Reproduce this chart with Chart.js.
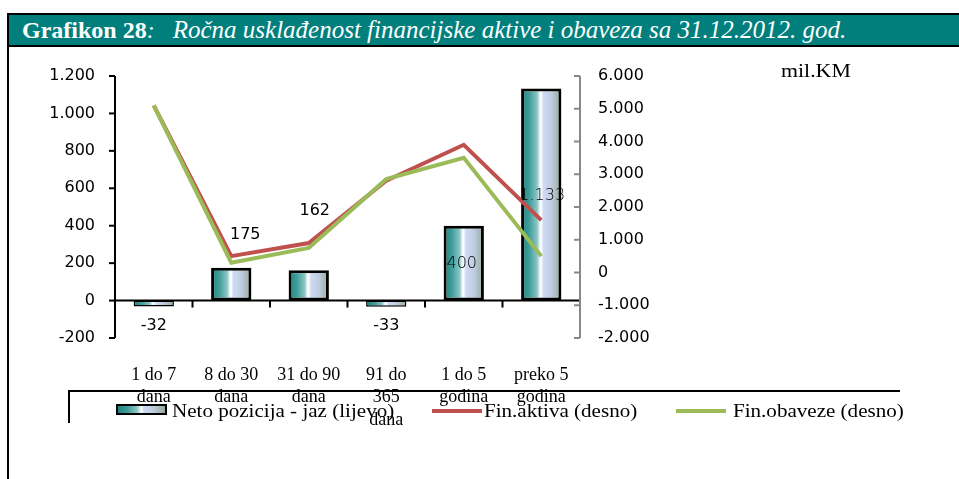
<!DOCTYPE html>
<html>
<head>
<meta charset="utf-8">
<script src="https://cdn.jsdelivr.net/npm/chart.js@4.4.0/dist/chart.umd.min.js"></script>
<style>
  body { margin: 0; width: 959px; height: 479px; background: #fff; position: relative; overflow: hidden; }
  #chart { position: absolute; left: 0; top: 0; }
  .title {
    position: absolute; left: 7px; top: 13px; width: 952px; height: 34px; box-sizing: border-box;
    background: #017f7d; border-top: 2px solid #000; border-bottom: 2px solid #000; border-left: 2px solid #000;
    color: #fff; font-family: "Liberation Serif", serif; font-size: 24px; line-height: 30px; padding-left: 13px;
    white-space: nowrap;
  }
  .title b { font-weight: bold; }
  .title i { font-style: italic; }
  .title .sub { font-size: 25px; }
  .frame-left { position: absolute; left: 7px; top: 47px; width: 2px; height: 432px; background: #000; }
  .unit { position: absolute; left: 781px; top: 60px; font-family: "Liberation Serif", serif; font-size: 19px; color: #000;
    transform: scaleX(1.15); transform-origin: left center; }
  .lg-top { position: absolute; left: 68px; top: 390px; width: 832px; height: 2px; background: #000; }
  .lg-left { position: absolute; left: 68px; top: 390px; width: 2px; height: 33px; background: #000; }
  .lg { position: absolute; top: 401px; font-family: "Liberation Serif", serif; font-size: 18px; color: #000; white-space: nowrap;
    transform: scaleX(1.17); transform-origin: left center; }
  .sw-bar { position: absolute; left: 116px; top: 404px; width: 51px; height: 11px; box-sizing: border-box; border: 2px solid #000;
    background: linear-gradient(to right, #1d8480 0%, #3f9c99 20%, #8cc6c4 40%, #ffffff 50%, #cfdaf6 55%, #c0cde0 75%, #93a89a 100%); }
  .sw-line { position: absolute; top: 409px; width: 50px; height: 4px; }
</style>
</head>
<body>
<canvas id="chart" width="959" height="479"></canvas>
<div class="title"><b>Grafikon 28</b><i>:</i>&nbsp;&nbsp;&nbsp;<i class="sub">Ročna usklađenost financijske aktive i obaveza sa 31.12.2012. god.</i></div>
<div class="frame-left"></div>
<div class="unit">mil.KM</div>
<div class="lg-top"></div>
<div class="lg-left"></div>
<div class="sw-bar"></div>
<div class="lg" style="left:172px">Neto pozicija - jaz (lijevo)</div>
<div class="sw-line" style="left:432px;background:#c0504d"></div>
<div class="lg" style="left:484px">Fin.aktiva (desno)</div>
<div class="sw-line" style="left:676px;background:#9bbb59"></div>
<div class="lg" style="left:733px">Fin.obaveze (desno)</div>
<script>
// categories (maturity buckets)
const categories = [
  ["1 do 7", "dana"],
  ["8 do 30", "dana"],
  ["31 do 90", "dana"],
  ["91 do", "365", "dana"],
  ["1 do 5", "godina"],
  ["preko 5", "godina"],
];
// net position / gap, left axis
const netoPozicija = [-32, 175, 162, -33, 400, 1133];
// financial assets and liabilities, right axis
const finAktiva = [5100, 500, 900, 2800, 3900, 1600];
const finObaveze = [5100, 300, 750, 2850, 3500, 500];
// axis ranges
const leftMin = -200, leftMax = 1200, leftStep = 200;
const rightMin = -2000, rightMax = 6000, rightStep = 1000;

const RED = "#c0504d";
const GREEN = "#9bbb59";
const BAR_STOPS = [
  [0, "#1d8480"], [0.2, "#3f9c99"], [0.4, "#8cc6c4"], [0.46, "#e8f4f6"], [0.5, "#ffffff"],
  [0.55, "#cfdaf6"], [0.75, "#c0cde0"], [1, "#93a89a"],
];
// where each value label sits, relative to the end of its bar (px)
const LABEL_SHIFT = [[0, 19], [14, -33], [6, -59], [0, 19], [-2, 38], [1, 107]];
const LABEL_LIGHT = [false, false, false, false, true, true];

function fmt(v) {
  const s = Math.abs(v).toString().replace(/\B(?=(\d{3})+(?!\d))/g, ".");
  return (v < 0 ? "-" : "") + s;
}

function barFill(c) {
  const chart = c.chart;
  const x = chart.scales.x;
  if (!x || c.dataIndex === undefined) return BAR_STOPS[0][1];
  const cx = x.getPixelForValue(c.dataIndex);
  const half = (x.width / categories.length) * 0.26;
  if (!isFinite(cx) || !isFinite(half) || half <= 0) return BAR_STOPS[0][1];
  const g = chart.ctx.createLinearGradient(cx - half, 0, cx + half, 0);
  BAR_STOPS.forEach(([o, col]) => g.addColorStop(o, col));
  return g;
}

// thin outline on the short negative bars so the fill still shows
function barBorder(c) {
  const v = c.raw;
  return typeof v === "number" && Math.abs(v) < 100 ? 1.5 : 3;
}

const axisMarks = {
  id: "axisMarks",
  beforeDatasetsDraw(chart) {
    const { ctx, chartArea: a } = chart;
    const { x, y, y1 } = chart.scales;
    const seg = (x0, y0, x1, y1_) => {
      ctx.beginPath(); ctx.moveTo(x0, y0); ctx.lineTo(x1, y1_); ctx.stroke();
    };
    ctx.save();
    ctx.lineWidth = 2;
    ctx.strokeStyle = "#000";
    seg(a.left, a.top, a.left, a.bottom);
    y.ticks.forEach(t => { const p = y.getPixelForValue(t.value); seg(a.left - 6, p, a.left, p); });
    const y0 = y.getPixelForValue(0);
    seg(a.left, y0, a.right, y0);
    for (let i = 1; i < categories.length; i++) {
      const px = (x.getPixelForValue(i - 1) + x.getPixelForValue(i)) / 2;
      seg(px, y0, px, y0 + 7);
    }
    ctx.strokeStyle = "#888";
    seg(a.right, a.top, a.right, a.bottom);
    y1.ticks.forEach(t => { const p = y1.getPixelForValue(t.value); seg(a.right - 6, p, a.right, p); });
    ctx.restore();
  },
  afterDatasetsDraw(chart) {
    const { ctx } = chart;
    const meta = chart.getDatasetMeta(2);
    ctx.save();
    ctx.textAlign = "center";
    ctx.textBaseline = "middle";
    meta.data.forEach((el, i) => {
      ctx.font = (LABEL_LIGHT[i] ? "200 " : "") + "16px 'DejaVu Sans'";
      ctx.fillStyle = "#000";
      ctx.fillText(fmt(netoPozicija[i]), el.x + LABEL_SHIFT[i][0], el.y + LABEL_SHIFT[i][1]);
    });
    ctx.restore();
  },
};

new Chart(document.getElementById("chart"), {
  data: {
    labels: categories,
    datasets: [
      {
        type: "line", label: "Fin.obaveze (desno)", data: finObaveze, yAxisID: "y1",
        borderColor: GREEN, borderWidth: 4, pointRadius: 0, tension: 0, order: 1,
      },
      {
        type: "line", label: "Fin.aktiva (desno)", data: finAktiva, yAxisID: "y1",
        borderColor: RED, borderWidth: 4, pointRadius: 0, tension: 0, order: 2,
      },
      {
        type: "bar", label: "Neto pozicija - jaz (lijevo)", data: netoPozicija, yAxisID: "y",
        backgroundColor: barFill, borderColor: "#000", borderWidth: barBorder, borderSkipped: false,
        categoryPercentage: 1, barPercentage: 0.52, order: 3,
      },
    ],
  },
  options: {
    responsive: false,
    animation: false,
    layout: { padding: { top: 76, left: 0, right: 0, bottom: 0 } },
    plugins: { legend: { display: false }, tooltip: { enabled: false } },
    scales: {
      x: {
        offset: true,
        grid: { display: false, drawTicks: false },
        border: { display: false },
        ticks: {
          color: "#000", autoSkip: false, maxRotation: 0, padding: 26,
          font: { family: "Liberation Serif", size: 18, lineHeight: 1.25 },
        },
        afterFit: s => { s.height = 141; },
      },
      y: {
        position: "left", min: leftMin, max: leftMax,
        grid: { display: false, drawTicks: false },
        border: { display: false },
        ticks: {
          stepSize: leftStep, color: "#000", padding: 20,
          font: { family: "DejaVu Sans", size: 16 },
          callback: v => fmt(v),
        },
        afterFit: s => { s.width = 115; },
      },
      y1: {
        position: "right", min: rightMin, max: rightMax,
        grid: { display: false, drawTicks: false },
        border: { display: false },
        ticks: {
          stepSize: rightStep, color: "#000", padding: 18,
          font: { family: "DejaVu Sans", size: 16 },
          callback: v => fmt(v),
        },
        afterFit: s => { s.width = 379; },
      },
    },
  },
  plugins: [axisMarks],
});
</script>
</body>
</html>
